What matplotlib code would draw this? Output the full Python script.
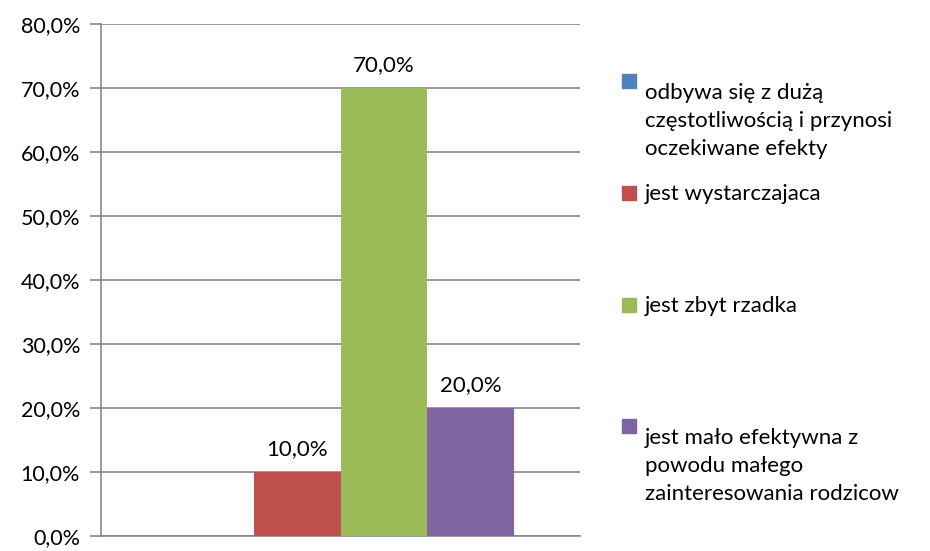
import numpy as np
import matplotlib.pyplot as plt
from matplotlib.patches import Rectangle
from matplotlib.ticker import FuncFormatter, MultipleLocator

plt.rcParams['font.family'] = ['Lato', 'DejaVu Sans']

labels = ['odbywa się z dużą\nczęstotliwością i przynosi\noczekiwane efekty',
          'jest wystarczajaca',
          'jest zbyt rzadka',
          'jest mało efektywna z\npowodu małego\nzainteresowania rodzicow']
values = [0.0, 10.0, 70.0, 20.0]
colors = ['#4F81BD', '#C0504D', '#9BBB59', '#8064A2']

fs = 16
fig = plt.figure(figsize=(9.3, 5.51), dpi=100)
ax = fig.add_axes([101/930, 15/551, 479/930, 512/551])

w = 0.1816
offsets = (np.arange(len(values)) - 1.5) * w
for off, v, c in zip(offsets, values, colors):
    ax.bar(off, v, width=w, color=c, zorder=3)
    if v > 0:
        ax.text(off, v + 2.6, f'{v:.1f}%'.replace('.', ','), ha='center',
                va='baseline', fontsize=fs)

ax.set_xlim(-0.5, 0.5)
ax.set_ylim(0, 80)
ax.yaxis.set_major_locator(MultipleLocator(10))
ax.yaxis.set_major_formatter(FuncFormatter(lambda y, p: f'{y:.1f}%'.replace('.', ',')))
ax.tick_params(axis='y', labelsize=15.5, length=8, width=1.2, color='#888888', pad=7)
for t in ax.get_yticklabels():
    t.set_va('center_baseline')
ax.set_xticks([])
ax.grid(axis='y', color='#888888', linewidth=1.2, zorder=0)
for s in ['top', 'right']:
    ax.spines[s].set_visible(False)
ax.spines['left'].set_color('#888888')
ax.spines['left'].set_linewidth(1.2)
ax.spines['bottom'].set_color('#888888')
ax.spines['bottom'].set_linewidth(1.2)

# legend drawn by hand, marker beside first line of each entry
line_h = 33.5
baselines = [88, 200, 312, 433]
for lab, c, y in zip(labels, colors, baselines):
    n = lab.count('\n')
    fig.patches.append(Rectangle((622/930, 1 - y/551), 14/930, 14/551,
                                 transform=fig.transFigure, color=c))
    fig.text(645/930, 1 - (y + n * line_h)/551, lab, ha='left', va='baseline',
             fontsize=fs, linespacing=line_h / (fs * 100 / 72))

fig.savefig('out.png', dpi=100)
